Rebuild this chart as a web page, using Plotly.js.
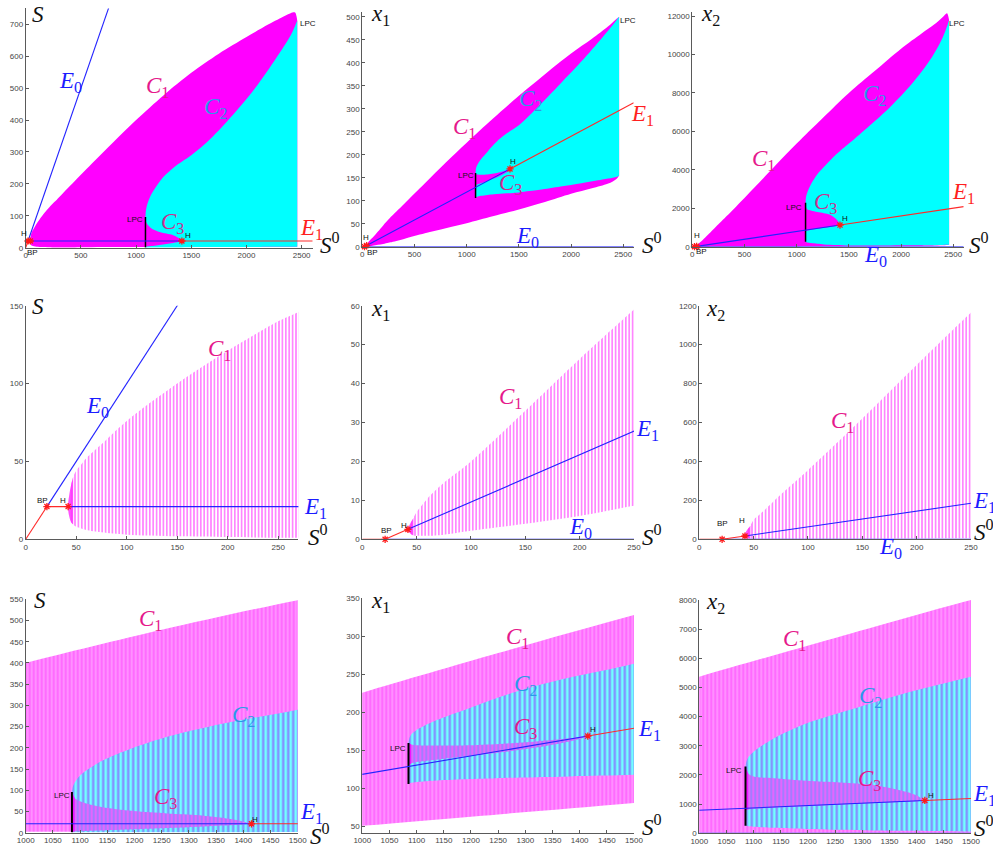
<!DOCTYPE html>
<html>
<head>
<meta charset="utf-8">
<script src="https://cdn.plot.ly/plotly-3.0.1.min.js"></script>
<style>
  html, body { margin: 0; padding: 0; background: #ffffff; }
  #chart { width: 993px; height: 850px; }
</style>
</head>
<body>
<div id="chart"></div>
<script>
// ---- Equilibria: E0 (washout) and E1 (coexistence) ----
// E0: S = S0, x1 = x2 = 0 ; BP at S0 = 21
const e0S0 = [0, 21, 2600];
const e0S  = [0, 21, 2600];
const e0X1 = [0, 0, 0];
const e0X2 = [0, 0, 0];
const e0Stable = [true, false];

// E1: from BP (21) through Hopf H (42) and second Hopf H (1415)
const e1S0 = [21, 42, 1415, 2600];
const e1S  = [21, 21, 21, 21];
const e1X1 = [0, 2.55, 169, 313];
const e1X2 = [0, 17, 1126, 2084];
const e1Stable = [true, false, true];

// ---- Limit-cycle family C1: from the Hopf point H (S0=42) to the fold LPC ----
const c1S0    = [42, 43, 45, 47, 50, 55, 60, 75, 100, 150, 200, 250, 270, 400, 600, 800, 1000, 1250, 1500, 1750, 2000, 2200, 2350, 2400, 2440, 2460];
const c1MaxS  = [21, 28, 35, 40, 44, 48, 52, 61, 76, 100, 121, 140, 146, 193, 264, 333, 400, 478, 548, 608, 660, 700, 727, 735, 737, 712];
const c1MinS  = [21, 15, 11, 9.5, 8, 7, 6, 4.5, 3, 2, 1.5, 1, 1, 1, 1.5, 2, 2, 2.5, 3, 3, 3, 3, 3, 3, 3, 3];
const c1MaxX1 = [2.55, 3.4, 4.5, 5.5, 7, 8.8, 10.5, 14.5, 20, 33, 46.3, 59, 64, 93, 138, 183, 226, 278, 328, 375, 420, 452, 478, 488, 496, 500];
const c1MinX1 = [2.55, 1.8, 1.3, 1.0, 0.9, 0.9, 0.9, 1.2, 2.2, 4, 6, 8.6, 9.5, 17, 29, 40, 51, 66, 81, 97, 115, 127, 137, 142, 148, 154];
const c1MaxX2 = [17, 40, 55, 70, 100, 125, 150, 230, 355, 620, 895, 1165, 1270, 1970, 3100, 4250, 5370, 6700, 8000, 9150, 10300, 11100, 11700, 11950, 12150, 11800];
const c1MinX2 = [17, 8, 5, 4, 3, 3, 3, 3, 3, 3, 4, 5, 5, 7, 10, 12, 15, 18, 20, 25, 30, 40, 60, 70, 85, 100];

// ---- Limit-cycle family C2: between the two folds LPC ----
const c2S0    = [1085, 1087, 1090, 1100, 1137, 1198, 1260, 1320, 1382, 1500, 1600, 1700, 1900, 2100, 2300, 2400, 2440, 2460];
const c2MaxS  = [96, 110, 118, 135, 167, 200, 226, 245, 262, 290, 318, 350, 425, 510, 610, 665, 695, 712];
const c2MinS  = [1, 1, 1, 1, 1, 1, 1, 1, 1, 1.5, 2, 2, 2, 2.5, 3, 3, 3, 3];
const c2MaxX1 = [160, 167, 171, 177, 190, 206, 222, 235, 246, 264, 285, 308, 355, 403, 455, 482, 494, 500];
const c2MinX1 = [106, 107, 107.5, 108.5, 110.5, 112.5, 114, 115, 116, 118, 121, 124, 131, 138, 146, 150, 152, 154];
const c2MaxX2 = [2290, 2480, 2600, 2800, 3250, 3770, 4140, 4480, 4820, 5370, 5830, 6300, 7300, 8450, 9900, 10900, 11450, 11800];
const c2MinX2 = [260, 250, 240, 225, 190, 150, 120, 100, 85, 60, 60, 60, 65, 70, 80, 90, 95, 100];

// ---- Limit-cycle family C3: from the fold LPC to the second Hopf point H ----
const c3S0    = [1085, 1090, 1100, 1137, 1198, 1260, 1320, 1382, 1400, 1415];
const c3MaxS  = [96, 82, 74, 61, 51, 45.5, 41, 31, 26, 21];
const c3MinS  = [2, 3, 3.5, 5, 8, 11, 14, 18, 19.5, 21];
const c3MaxX1 = [160, 158, 157, 156.5, 157, 159, 162, 166, 168, 169];
const c3MinX1 = [130, 133, 135, 138, 143, 148, 154, 162, 165, 169];
const c3MaxX2 = [2290, 2050, 1950, 1886, 1800, 1740, 1660, 1420, 1300, 1126];
const c3MinX2 = [800, 820, 840, 880, 930, 980, 1030, 1080, 1100, 1126];

// ---- Tick values ----
const ticksTopX = [0, 500, 1000, 1500, 2000, 2500];
const ticksMidX = [0, 50, 100, 150, 200, 250];
const ticksBotX = [1000, 1050, 1100, 1150, 1200, 1250, 1300, 1350, 1400, 1450, 1500];
const ticksTopS  = [0, 100, 200, 300, 400, 500, 600, 700];
const ticksTopX1 = [0, 50, 100, 150, 200, 250, 300, 350, 400, 450, 500];
const ticksTopX2 = [0, 2000, 4000, 6000, 8000, 10000, 12000];
const ticksMidS  = [0, 50, 100, 150];
const ticksMidX1 = [0, 10, 20, 30, 40, 50, 60];
const ticksMidX2 = [0, 200, 400, 600, 800, 1000, 1200];
const ticksBotS  = [0, 50, 100, 150, 200, 250, 300, 350, 400, 450, 500, 550];
const ticksBotX1 = [50, 100, 150, 200, 250, 300, 350];
const ticksBotX2 = [0, 1000, 2000, 3000, 4000, 5000, 6000, 7000, 8000];

// ---- Per-variable bundles built from the arrays above ----
const vars = {
  S:  { c1: [c1MaxS,  c1MinS],  c2: [c2MaxS,  c2MinS],  c3: [c3MaxS,  c3MinS],  e0: e0S,  e1: e1S },
  x1: { c1: [c1MaxX1, c1MinX1], c2: [c2MaxX1, c2MinX1], c3: [c3MaxX1, c3MinX1], e0: e0X1, e1: e1X1 },
  x2: { c1: [c1MaxX2, c1MinX2], c2: [c2MaxX2, c2MinX2], c3: [c3MaxX2, c3MinX2], e0: e0X2, e1: e1X2 }
};

const W = 993, H = 850;
const fx = px => px / W;
const fy = py => 1 - py / H;

// Panel geometry in pixels: [left, right], [top, bottom]
const panels = [
  { v: 'S',  row: 0, xr: [0, 2600],    yr: [0, 750],   xd: [25.7, 312.7],  yd: [8.4, 247.7],   xt: ticksTopX, yt: ticksTopS },
  { v: 'x1', row: 0, xr: [0, 2600],    yr: [0, 510],   xd: [362.3, 633.7], yd: [12.1, 246.7],  xt: ticksTopX, yt: ticksTopX1 },
  { v: 'x2', row: 0, xr: [0, 2600],    yr: [0, 12200], xd: [692.3, 963.7], yd: [12.2, 246.7],  xt: ticksTopX, yt: ticksTopX2 },
  { v: 'S',  row: 1, xr: [0, 270],     yr: [0, 150],   xd: [25.7, 298.4],  yd: [305.7, 539.3], xt: ticksMidX, yt: ticksMidS },
  { v: 'x1', row: 1, xr: [0, 250],     yr: [0, 60],    xd: [362.3, 634],   yd: [305.7, 539.3], xt: ticksMidX, yt: ticksMidX1 },
  { v: 'x2', row: 1, xr: [0, 250],     yr: [0, 1200],  xd: [699.3, 971],   yd: [305.7, 539.3], xt: ticksMidX, yt: ticksMidX2 },
  { v: 'S',  row: 2, xr: [1000, 1500], yr: [0, 550],   xd: [25.7, 297.7],  yd: [599.3, 832.7], xt: ticksBotX, yt: ticksBotS },
  { v: 'x1', row: 2, xr: [1000, 1500], yr: [42, 350],  xd: [362.3, 634],   yd: [598.3, 832.7], xt: ticksBotX, yt: ticksBotX1 },
  { v: 'x2', row: 2, xr: [1000, 1500], yr: [0, 8000],  xd: [699.3, 971],   yd: [600, 833.3],   xt: ticksBotX, yt: ticksBotX2 }
];

const RED = '#ff2a2a', BLUE = '#2323ff';

// closed outline of an envelope: upper curve forward, lower curve back;
// corner points are repeated so the spline keeps sharp vertical ends
function band(xs, hi, lo) {
  const n = xs.length;
  const rx = xs.slice().reverse(), rl = lo.slice().reverse();
  return {
    x: [xs[0]].concat(xs, [xs[n - 1], xs[n - 1]], rx, [xs[0]]),
    y: [hi[0]].concat(hi, [hi[n - 1], lo[n - 1]], rl, [lo[0]])
  };
}

const traces = [];
const layout = {
  width: W, height: H,
  margin: { l: 0, r: 0, t: 0, b: 0 },
  paper_bgcolor: '#ffffff', plot_bgcolor: 'rgba(0,0,0,0)',
  showlegend: false,
  annotations: []
};

panels.forEach((p, i) => {
  const id = i === 0 ? '' : String(i + 1);
  const xa = 'x' + id, ya = 'y' + id;
  const axBase = {
    showline: true, linecolor: '#5a5a5a', linewidth: 1,
    ticks: 'inside', ticklen: 3, tickwidth: 1, tickcolor: '#5a5a5a',
    tickmode: 'array', tickformat: 'd',
    tickfont: { family: 'Liberation Sans, Arial, sans-serif', size: 8, color: '#454545' },
    showgrid: false, zeroline: false, fixedrange: true
  };
  layout['xaxis' + id] = Object.assign({}, axBase, {
    domain: [fx(p.xd[0]), fx(p.xd[1])], range: p.xr, anchor: ya, tickvals: p.xt
  });
  layout['yaxis' + id] = Object.assign({}, axBase, {
    domain: [fy(p.yd[1]), fy(p.yd[0])], range: p.yr, anchor: xa, tickvals: p.yt
  });

  const d = vars[p.v];
  const common = { type: 'scatter', mode: 'lines', xaxis: xa, yaxis: ya, hoverinfo: 'skip',
                   line: { width: 0, color: 'rgba(0,0,0,0)', shape: 'spline', smoothing: 0.9, simplify: false } };

  const b1 = band(c1S0, d.c1[0], d.c1[1]);
  const b2 = band(c2S0, d.c2[0], d.c2[1]);
  const b3 = band(c3S0, d.c3[0], d.c3[1]);

  if (p.row === 0) {
    // solid envelopes of the cycle families
    traces.push(Object.assign({}, common, b1, { fill: 'toself', fillcolor: '#ff00ff' }));
    traces.push(Object.assign({}, common, b2, { fill: 'toself', fillcolor: '#00ffff' }));
    traces.push(Object.assign({}, common, b3, { fill: 'toself', fillcolor: '#ff00ff' }));
  } else if (p.row === 1) {
    // individual cycles near the Hopf point drawn as vertical hatching
    traces.push(Object.assign({}, common, b1, {
      fill: 'toself', fillcolor: 'rgba(255,255,255,0)',
      fillpattern: { shape: '|', fillmode: 'replace', bgcolor: 'rgba(255,255,255,0)',
                     fgcolor: '#ff4dff', size: 3.4, solidity: 0.34 }
    }));
    const n = c1S0.filter(s => s <= 47).length;
    const nose = band(c1S0.slice(0, n), d.c1[0].slice(0, n), d.c1[1].slice(0, n));
    traces.push(Object.assign({}, common, nose, { fill: 'toself', fillcolor: 'rgba(255,40,255,0.8)' }));
  } else {
    traces.push(Object.assign({}, common, b1, {
      fill: 'toself', fillcolor: '#ff6bff',
      fillpattern: { shape: '|', fillmode: 'replace', bgcolor: '#ff6bff', fgcolor: '#ffa8ff', size: 4, solidity: 0.3 }
    }));
    traces.push(Object.assign({}, common, b2, {
      fill: 'toself', fillcolor: '#72ffff',
      fillpattern: { shape: '|', fillmode: 'replace', bgcolor: '#72ffff', fgcolor: '#8488ff', size: 5, solidity: 0.45 }
    }));
    traces.push(Object.assign({}, common, b3, {
      fill: 'toself', fillcolor: '#a47cff',
      fillpattern: { shape: '|', fillmode: 'replace', bgcolor: '#a47cff', fgcolor: '#ff5cff', size: 4, solidity: 0.35 }
    }));
    // densely packed cycles right after the fold
    const m = c3S0.filter(s => s <= 1090).length;
    const dense = band(c3S0.slice(0, m), d.c3[0].slice(0, m), d.c3[1].slice(0, m));
    traces.push(Object.assign({}, common, dense, { fill: 'toself', fillcolor: 'rgba(255,0,255,0.85)' }));
  }

  // fold of cycles (LPC) at the left end of C2/C3
  if (p.row !== 1) {
    traces.push({ type: 'scatter', mode: 'lines', xaxis: xa, yaxis: ya, hoverinfo: 'skip',
      x: [c2S0[0], c2S0[0]], y: [d.c2[1][0], d.c2[0][0]],
      line: { color: '#000000', width: p.row === 0 ? 1.5 : 2 } });
  }

  // equilibrium branches: red = stable, blue = unstable
  const lw = 1.1;
  function branch(xs, ys, stab) {
    stab.forEach((st, k) => {
      traces.push({ type: 'scatter', mode: 'lines', xaxis: xa, yaxis: ya, hoverinfo: 'skip',
        x: [xs[k], xs[k + 1]], y: [ys[k], ys[k + 1]],
        line: { color: st ? RED : BLUE, width: lw } });
    });
  }
  branch(e0S0, d.e0, e0Stable);
  branch(e1S0, d.e1, e1Stable);

  // BP and Hopf points
  const mx = [], my = [];
  [0, 1, 2].forEach(k => {
    const sx = e1S0[k], sy = d.e1[k];
    if (sx >= p.xr[0] && sx <= p.xr[1] && sy >= p.yr[0] && sy <= p.yr[1]) { mx.push(sx); my.push(sy); }
  });
  traces.push({ type: 'scatter', mode: 'markers', xaxis: xa, yaxis: ya, hoverinfo: 'skip', cliponaxis: false,
    x: mx, y: my, marker: { symbol: 'asterisk-open', size: 6, color: '#ff1a1a', line: { color: '#ff1a1a', width: 1.3 } } });
});

// ---- Text labels ----
const SERIF = 'Liberation Serif, Times New Roman, serif';
const SANS = 'Liberation Sans, Arial, sans-serif';
const MAG = '#e5198c', MAG3 = '#cc2f90', CYB = '#2b9ae8', BLU = '#1c1cff', RD = '#ff1f1f', BLK = '#111111';
function T(text, x, y, color, size, family) {
  layout.annotations.push({ text, x: fx(x), y: fy(y), xref: 'paper', yref: 'paper', showarrow: false,
    xanchor: 'center', yanchor: 'middle', font: { family: family || SERIF, size: size || 23, color } });
}
const S_ = '<i>S</i>', S0_ = '<i>S</i><sup>0</sup>';
const X1_ = '<i>x</i><sub>1</sub>', X2_ = '<i>x</i><sub>2</sub>';
const C1_ = '<i>C</i><sub>1</sub>', C2_ = '<i>C</i><sub>2</sub>', C3_ = '<i>C</i><sub>3</sub>';
const E0_ = '<i>E</i><sub>0</sub>', E1_ = '<i>E</i><sub>1</sub>';

// top row
T(S_, 38, 14, BLK); T(S0_, 330, 243, BLK);
T(E0_, 70, 82, BLU); T(C1_, 157, 87, MAG); T(C2_, 215, 108, CYB); T(C3_, 172, 223, MAG3); T(E1_, 311, 229, RD);
T('H', 24, 234, BLK, 8, SANS); T('BP', 32, 253, BLK, 8, SANS); T('LPC', 135, 220, BLK, 8, SANS);
T('H', 188, 236, BLK, 8, SANS); T('LPC', 308, 23, BLK, 8, SANS);

T(X1_, 380, 15, BLK); T(S0_, 652, 243, BLK);
T(C1_, 464, 128, MAG); T(C2_, 530, 100, CYB); T(C3_, 511, 184, MAG3); T(E1_, 642, 115, RD); T(E0_, 527, 237, BLU);
T('LPC', 628, 21, BLK, 8, SANS); T('H', 513, 161, BLK, 8, SANS); T('LPC', 466, 176, BLK, 8, SANS);
T('H', 366, 237, BLK, 8, SANS); T('BP', 372, 253, BLK, 8, SANS);

T(X2_, 710, 15, BLK); T(S0_, 979, 243, BLK);
T(C1_, 763, 160, MAG); T(C2_, 874, 95, CYB); T(C3_, 825, 203, MAG3); T(E1_, 963, 193, RD); T(E0_, 875, 256, BLU);
T('LPC', 957, 23, BLK, 8, SANS); T('LPC', 794, 207, BLK, 8, SANS); T('H', 845, 219, BLK, 8, SANS);
T('H', 697, 235, BLK, 8, SANS); T('BP', 701, 252, BLK, 8, SANS);

// middle row
T(S_, 38, 306, BLK); T(S0_, 318, 535, BLK);
T(E0_, 97, 407, BLU); T(C1_, 219, 350, MAG); T(E1_, 315, 508, BLU);
T('BP', 42, 501, BLK, 8, SANS); T('H', 63, 501, BLK, 8, SANS);

T(X1_, 380, 310, BLK); T(S0_, 652, 535, BLK);
T(C1_, 510, 398, MAG); T(E1_, 647, 430, BLU); T(E0_, 580, 528, BLU);
T('BP', 386, 530, BLK, 8, SANS); T('H', 404, 525, BLK, 8, SANS);

T(X2_, 715, 310, BLK); T(S0_, 984, 530, BLK);
T(C1_, 842, 422, MAG); T(E1_, 984, 502, BLU); T(E0_, 890, 548, BLU);
T('BP', 722, 523, BLK, 8, SANS); T('H', 742, 520, BLK, 8, SANS);

// bottom row
T(S_, 40, 600, BLK); T(S0_, 320, 834, BLK);
T(C1_, 150, 620, MAG); T(C2_, 243, 716, CYB); T(C3_, 165, 798, MAG); T(E1_, 311, 813, BLU);
T('LPC', 62, 795, BLK, 8, SANS); T('H', 255, 819, BLK, 8, SANS);

T(X1_, 380, 602, BLK); T(S0_, 652, 825, BLK);
T(C1_, 517, 638, MAG); T(C2_, 525, 685, CYB); T(C3_, 525, 728, MAG); T(E1_, 649, 730, BLU);
T('LPC', 398, 748, BLK, 8, SANS); T('H', 593, 729, BLK, 8, SANS);

T(X2_, 715, 603, BLK); T(S0_, 984, 826, BLK);
T(C1_, 794, 640, MAG); T(C2_, 870, 697, CYB); T(C3_, 869, 780, MAG); T(E1_, 984, 795, BLU);
T('LPC', 734, 770, BLK, 8, SANS); T('H', 931, 795, BLK, 8, SANS);

Plotly.newPlot('chart', traces, layout, { staticPlot: true, displayModeBar: false });
</script>
</body>
</html>
